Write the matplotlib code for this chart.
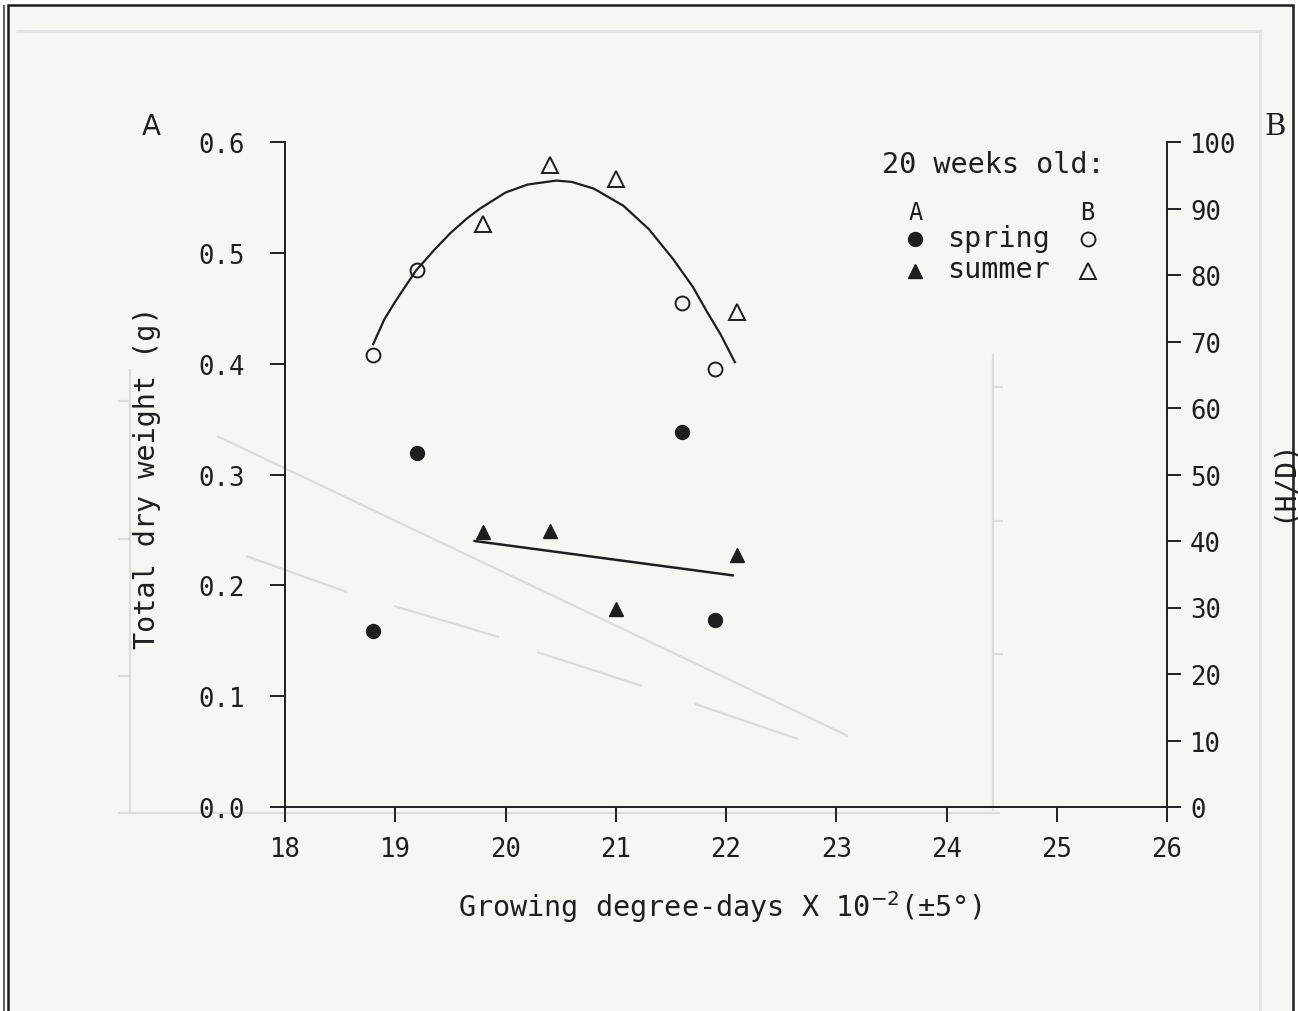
import matplotlib.pyplot as plt
from matplotlib.lines import Line2D
from matplotlib.patches import Rectangle
from matplotlib.transforms import Affine2D

# growing degree-days (x 100) of each sowing
gdd_spring = [18.8, 19.2, 21.6, 21.9]
gdd_summer = [19.8, 20.4, 21.0, 22.1]

# A: total dry weight (g)
weight_spring = [0.159, 0.319, 0.338, 0.169]
weight_summer = [0.248, 0.249, 0.179, 0.227]

# B: height / diameter ratio
hd_spring = [67.9, 80.8, 75.8, 65.9]
hd_summer = [87.7, 96.5, 94.5, 74.5]

# fitted lines
weight_fit_x = [19.72, 22.06]
weight_fit_y = [0.240, 0.209]
hd_fit_x = [18.8, 18.9, 19.0, 19.1, 19.19, 19.35, 19.5, 19.65, 19.77, 20.0,
            20.2, 20.46, 20.6, 20.8, 21.07, 21.3, 21.52, 21.7, 21.83, 21.95,
            22.08]
hd_fit_y = [69.6, 73.3, 76.0, 78.5, 80.7, 83.7, 86.3, 88.5, 90.0, 92.4,
            93.6, 94.2, 94.0, 93.0, 90.4, 86.9, 82.4, 78.2, 74.4, 71.1,
            66.9]

x_ticks = [18, 19, 20, 21, 22, 23, 24, 25, 26]
weight_ticks = [0.0, 0.1, 0.2, 0.3, 0.4, 0.5, 0.6]
hd_ticks = [0, 10, 20, 30, 40, 50, 60, 70, 80, 90, 100]

W, H = 1298, 1012
INK = '#1e1e1e'
PAPER = '#f6f6f3'
GHOST = '#dcdcdb'

plt.rcParams['font.family'] = 'DejaVu Sans Mono'

fig = plt.figure(figsize=(W / 100, H / 100), dpi=100, facecolor='white')
# pixel coordinates, origin top-left
pix = Affine2D().scale(1 / W, -1 / H).translate(0, 1) + fig.transFigure


def seg(x0, y0, x1, y1, color=GHOST, lw=1.6):
    fig.add_artist(Line2D([x0, x1], [y0, y1], transform=pix, color=color,
                          lw=lw, solid_capstyle='butt', zorder=-5))


# sheet and frame
fig.add_artist(Rectangle((8, 6), 1285, 1012, transform=pix, zorder=-10,
                         facecolor=PAPER, edgecolor=INK, lw=1.8))
seg(4, 6, 4, 1012, color='#444444', lw=1.2)
seg(16, 32, 1262, 32, color='#e2e2e2', lw=2)
seg(1260, 32, 1260, 1012, color='#e4e4e4', lw=2)

# show-through from the reverse of the sheet
seg(217, 437, 848, 737)
seg(246, 557, 347, 593)
seg(394, 607, 499, 638)
seg(537, 653, 642, 687)
seg(695, 705, 798, 740)
seg(130, 370, 130, 815)
seg(118, 814, 1000, 814)
for yy in [402, 540, 677]:
    seg(118, yy, 130, yy)
seg(993, 355, 993, 812)
for yy in [388, 522, 655]:
    seg(993, yy, 1003, yy)

# main axes
ax = fig.add_axes([285 / W, 1 - 808 / H, 882 / W, 665 / H])
ax.patch.set_alpha(0)
ax.set_xlim(18, 26)
ax.set_ylim(0, 0.6)
for side in ['top', 'right']:
    ax.spines[side].set_visible(False)
for side in ['left', 'bottom']:
    ax.spines[side].set_color(INK)
    ax.spines[side].set_linewidth(1.4)
ax.set_xticks(x_ticks)
ax.set_yticks(weight_ticks)
ax.set_yticklabels([f'{v:.1f}' for v in weight_ticks])
ax.tick_params(direction='out', length=11, width=1.4, colors=INK,
               labelsize=18.5)
ax.tick_params(axis='y', pad=18)
ax.tick_params(axis='x', pad=10)

ax2 = ax.twinx()
ax2.set_ylim(0, 100)
for side in ['top', 'left', 'bottom']:
    ax2.spines[side].set_visible(False)
ax2.spines['right'].set_color(INK)
ax2.spines['right'].set_linewidth(1.4)
ax2.set_yticks(hd_ticks)
ax2.tick_params(direction='out', length=10, width=1.4, colors=INK,
                labelsize=18.5, pad=6.5)

# A: dry weight
ax.plot(weight_fit_x, weight_fit_y, '-', color=INK, lw=1.8)
ax.plot(gdd_spring, weight_spring, 'o', ms=10, color=INK, clip_on=False)
ax.plot(gdd_summer, weight_summer, '^', ms=10, color=INK, clip_on=False)

# B: H/D ratio
ax2.plot(hd_fit_x, hd_fit_y, '-', color=INK, lw=1.6, clip_on=False)
ax2.plot(gdd_spring, hd_spring, 'o', ms=10, mfc='none', mec=INK, mew=1.4,
         clip_on=False)
ax2.plot(gdd_summer, hd_summer, '^', ms=11, mfc='none', mec=INK, mew=1.4,
         clip_on=False)

ax.set_xlabel('Growing degree-days X 10$^{-2}$(\u00b15\u00b0)', fontsize=20.5,
              color=INK, va='center')
ax.xaxis.set_label_coords((720 - 285) / 882, (808 - 907) / 665)
ax.set_ylabel('Total dry weight (g)', fontsize=20.5, color=INK, va='center')
ax.yaxis.set_label_coords((147 - 285) / 882, (808 - 478) / 665)
ax2.set_ylabel('(H/D)', fontsize=20, color=INK, va='center', ha='center',
               rotation=90)
ax2.yaxis.set_label_coords((1283 - 285) / 882, (808 - 480) / 665)

# panel letters
fig.text(151, 135, 'A', transform=pix, fontsize=20, color=INK,
         ha='center', va='baseline', family='DejaVu Sans')
fig.text(1275, 135, 'B', transform=pix, fontsize=21, color=INK,
         ha='center', va='baseline', family='DejaVu Serif')

# legend
fig.text(882, 173, '20 weeks old:', transform=pix, fontsize=20.5, color=INK,
         va='baseline')
fig.text(916, 220, 'A', transform=pix, fontsize=17, color=INK, ha='center',
         va='baseline')
fig.text(1087, 220, 'B', transform=pix, fontsize=17, color=INK, ha='center',
         va='baseline')
fig.text(947, 247, 'spring', transform=pix, fontsize=20.5, color=INK,
         va='baseline')
fig.text(947, 278, 'summer', transform=pix, fontsize=20.5, color=INK,
         va='baseline')
fig.add_artist(Line2D([915], [240], transform=pix, marker='o', ms=10,
                      color=INK, ls='none'))
fig.add_artist(Line2D([915], [272], transform=pix, marker='^', ms=10,
                      color=INK, ls='none'))
fig.add_artist(Line2D([1088], [240], transform=pix, marker='o', ms=10,
                      mfc='none', mec=INK, mew=1.4, ls='none'))
fig.add_artist(Line2D([1088], [272], transform=pix, marker='^', ms=11,
                      mfc='none', mec=INK, mew=1.4, ls='none'))

fig.savefig('out.png', dpi=100, facecolor='white')
